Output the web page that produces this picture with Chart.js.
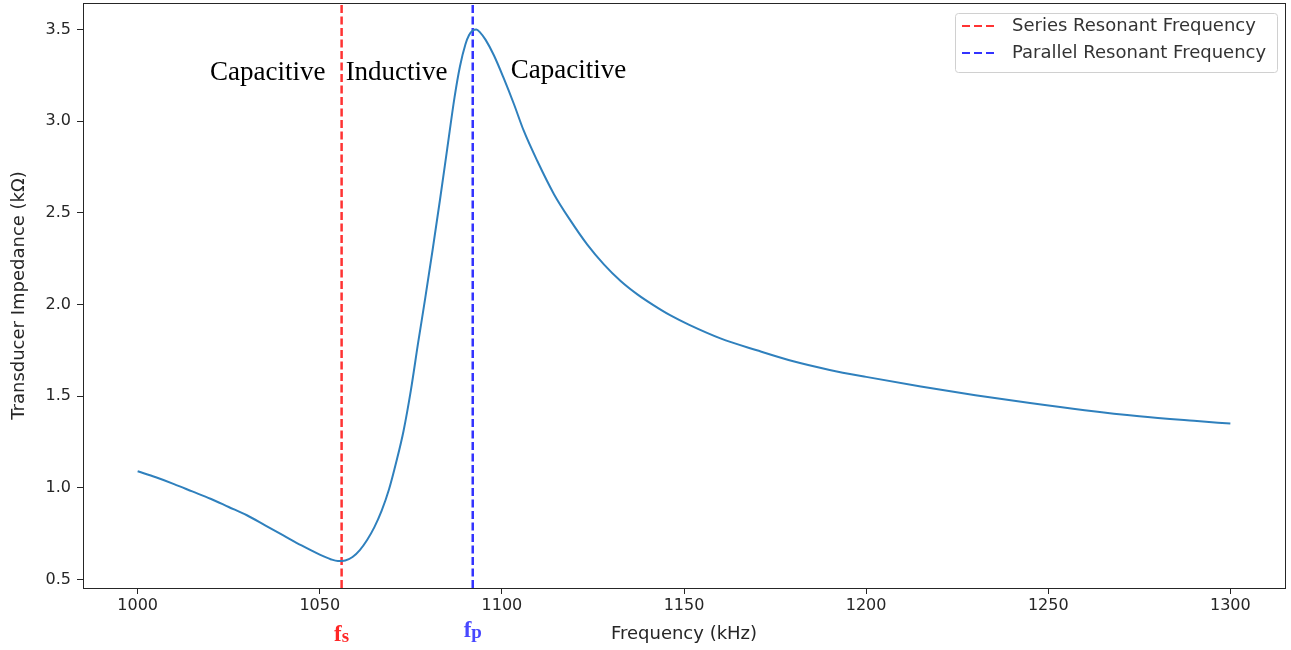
<!DOCTYPE html>
<html>
<head>
<meta charset="utf-8">
<script src="https://cdn.jsdelivr.net/npm/chart.js@4.4.0/dist/chart.umd.min.js"></script>
<style>
  html, body { margin: 0; padding: 0; background: #fff; }
  #wrap { width: 1291px; height: 650px; }
</style>
</head>
<body>
<div id="wrap"><canvas id="chart"></canvas></div>
<script>
// Impedance curve (kHz -> kOhm)
const freqs = [1000, 1005, 1010, 1015, 1020, 1025, 1030, 1035, 1040, 1045, 1050, 1053, 1055, 1057,
  1059, 1061, 1063, 1065, 1067, 1069, 1071, 1073, 1075, 1077, 1079, 1081, 1083, 1085, 1087,
  1088.5, 1090, 1091, 1092, 1093, 1094, 1095.5, 1097.8, 1100.5, 1103.3, 1106, 1109.7, 1114.3,
  1118.9, 1123.4, 1128, 1132.6, 1137.2, 1141.7, 1146.3, 1151.3, 1160, 1170, 1180, 1190, 1200,
  1215, 1230, 1245, 1260, 1275, 1290, 1300];
const impedance = [1.09, 1.057, 1.02, 0.98, 0.94, 0.895, 0.85, 0.795, 0.74, 0.685, 0.635, 0.61, 0.60, 0.603,
  0.622, 0.66, 0.715, 0.785, 0.875, 0.99, 1.14, 1.31, 1.53, 1.79, 2.04, 2.30, 2.57, 2.85, 3.13,
  3.30, 3.42, 3.47, 3.495, 3.50, 3.485, 3.445, 3.36, 3.235, 3.094, 2.948, 2.784, 2.602,
  2.456, 2.328, 2.219, 2.128, 2.055, 1.995, 1.94, 1.89, 1.815, 1.75, 1.69, 1.643, 1.605,
  1.553, 1.505, 1.462, 1.423, 1.39, 1.365, 1.35];

// resonant frequencies (vertical lines)
const seriesFreq = 1056;
const parallelFreq = 1092;
const lineLabels = ['Series Resonant Frequency', 'Parallel Resonant Frequency'];

// axis ranges and ticks
const xRange = [985, 1315];
const yRange = [0.453, 3.645];
const xTicks = [1000, 1050, 1100, 1150, 1200, 1250, 1300];
const yTicks = [0.5, 1.0, 1.5, 2.0, 2.5, 3.0, 3.5];

// region labels (baseline) in data coordinates
const regionLabels = ['Capacitive', 'Inductive', 'Capacitive'];
const regionX = [1035.7, 1071.1, 1118.3];
const regionY = [3.227, 3.227, 3.238];

const RED = 'rgba(255, 0, 0, 0.8)';
const BLUE = 'rgba(0, 0, 255, 0.8)';
const AXIS = '#262626';
const FONT = '"DejaVu Sans", sans-serif';

const curve = freqs.map((f, i) => ({ x: f, y: impedance[i] }));

// Frame around the plot area, like matplotlib spines
const framePlugin = {
  id: 'frame',
  afterDraw(chart) {
    const { ctx, chartArea: a } = chart;
    ctx.save();
    ctx.strokeStyle = AXIS;
    ctx.lineWidth = 1;
    ctx.strokeRect(Math.round(a.left) + 0.5, Math.round(a.top) + 0.5,
      Math.round(a.right - a.left), Math.round(a.bottom - a.top));
    ctx.restore();
  }
};

// Text annotations: region names and fs/fp markers under the axis
const textPlugin = {
  id: 'texts',
  afterDatasetsDraw(chart) {
    const { ctx, scales } = chart;
    ctx.save();
    ctx.fillStyle = '#000';
    ctx.font = '27px "Liberation Serif", "DejaVu Serif", serif';
    ctx.textAlign = 'center';
    ctx.textBaseline = 'alphabetic';
    regionLabels.forEach((t, i) => {
      ctx.fillText(t, scales.x.getPixelForValue(regionX[i]), scales.y.getPixelForValue(regionY[i]));
    });

    // fs / fp below the x axis
    const drawMark = (f, sub, color, y) => {
      const px = scales.x.getPixelForValue(f);
      ctx.fillStyle = color;
      ctx.font = 'bold 23px "Liberation Serif", serif';
      const w1 = ctx.measureText('f').width;
      ctx.font = 'bold 19px "Liberation Serif", serif';
      const w2 = ctx.measureText(sub).width;
      const start = px - (w1 + w2) / 2;
      ctx.textAlign = 'left';
      ctx.font = 'bold 23px "Liberation Serif", serif';
      ctx.fillText('f', start, y);
      ctx.font = 'bold 19px "Liberation Serif", serif';
      ctx.fillText(sub, start + w1, y + 1);
    };
    drawMark(seriesFreq, 's', 'rgba(255, 0, 0, 0.85)', 641);
    drawMark(parallelFreq, 'p', 'rgba(40, 40, 255, 0.85)', 637);
    ctx.restore();
  }
};

// Legend box in the upper right corner of the plot
const legendPlugin = {
  id: 'boxLegend',
  afterDraw(chart) {
    const { ctx, chartArea: a } = chart;
    const items = chart.data.datasets.filter(d => d.label);
    const bw = 322, bh = 59;
    const bx = a.right - 8 - bw, by = a.top + 10;
    ctx.save();
    ctx.fillStyle = 'rgba(255,255,255,0.8)';
    ctx.strokeStyle = '#d0d0d0';
    ctx.lineWidth = 1;
    ctx.beginPath();
    ctx.roundRect(bx + 0.5, by + 0.5, bw, bh, 3);
    ctx.fill();
    ctx.stroke();
    items.forEach((d, i) => {
      const y = by + 13 + i * 27;
      ctx.strokeStyle = d.borderColor;
      ctx.lineWidth = 2;
      ctx.setLineDash([8, 4]);
      ctx.beginPath();
      ctx.moveTo(bx + 7, y);
      ctx.lineTo(bx + 43, y);
      ctx.stroke();
      ctx.setLineDash([]);
      ctx.fillStyle = '#333';
      ctx.font = '18px ' + FONT;
      ctx.textAlign = 'left';
      ctx.textBaseline = 'middle';
      ctx.fillText(d.label, bx + 57, y);
    });
    ctx.restore();
  }
};

new Chart(document.getElementById('chart'), {
  type: 'line',
  data: {
    datasets: [
      {
        data: curve,
        borderColor: '#2f80bd',
        borderWidth: 2,
        pointRadius: 0,
        cubicInterpolationMode: 'monotone',
        fill: false
      },
      {
        label: lineLabels[0],
        data: [{ x: seriesFreq, y: yRange[0] }, { x: seriesFreq, y: yRange[1] }],
        borderColor: RED,
        borderWidth: 2.5,
        borderDash: [8, 3.5],
        pointRadius: 0
      },
      {
        label: lineLabels[1],
        data: [{ x: parallelFreq, y: yRange[0] }, { x: parallelFreq, y: yRange[1] }],
        borderColor: BLUE,
        borderWidth: 2.5,
        borderDash: [8, 3.5],
        pointRadius: 0
      }
    ]
  },
  options: {
    responsive: true,
    maintainAspectRatio: false,
    animation: false,
    layout: { padding: { top: 3, right: 6, left: 0, bottom: 0 } },
    plugins: {
      legend: { display: false },
      tooltip: { enabled: false }
    },
    scales: {
      x: {
        type: 'linear',
        min: xRange[0],
        max: xRange[1],
        afterBuildTicks: scale => { scale.ticks = xTicks.map(v => ({ value: v })); },
        afterFit: scale => { scale.height = 62; scale.paddingLeft = 0; scale.paddingRight = 0; },
        grid: { drawOnChartArea: false, drawTicks: true, tickLength: 6, tickColor: AXIS },
        border: { display: true, color: AXIS },
        ticks: {
          color: AXIS,
          font: { family: FONT, size: 16 },
          padding: 2,
          maxRotation: 0,
          callback: v => String(v)
        },
        title: {
          display: true,
          text: 'Frequency (kHz)',
          color: AXIS,
          font: { family: FONT, size: 18 },
          padding: { top: 2, bottom: 5 }
        }
      },
      y: {
        min: yRange[0],
        max: yRange[1],
        afterBuildTicks: scale => { scale.ticks = yTicks.map(v => ({ value: v })); },
        afterFit: scale => { scale.width = 83; scale.paddingTop = 0; scale.paddingBottom = 0; },
        grid: { drawOnChartArea: false, drawTicks: true, tickLength: 6, tickColor: AXIS },
        border: { display: true, color: AXIS },
        ticks: {
          color: AXIS,
          font: { family: FONT, size: 16 },
          padding: 6,
          callback: v => v.toFixed(1)
        },
        title: {
          display: true,
          text: 'Transducer Impedance (kΩ)',
          color: AXIS,
          font: { family: FONT, size: 18 },
          padding: { top: 9, bottom: 0 }
        }
      }
    }
  },
  plugins: [framePlugin, textPlugin, legendPlugin]
});
</script>
</body>
</html>
